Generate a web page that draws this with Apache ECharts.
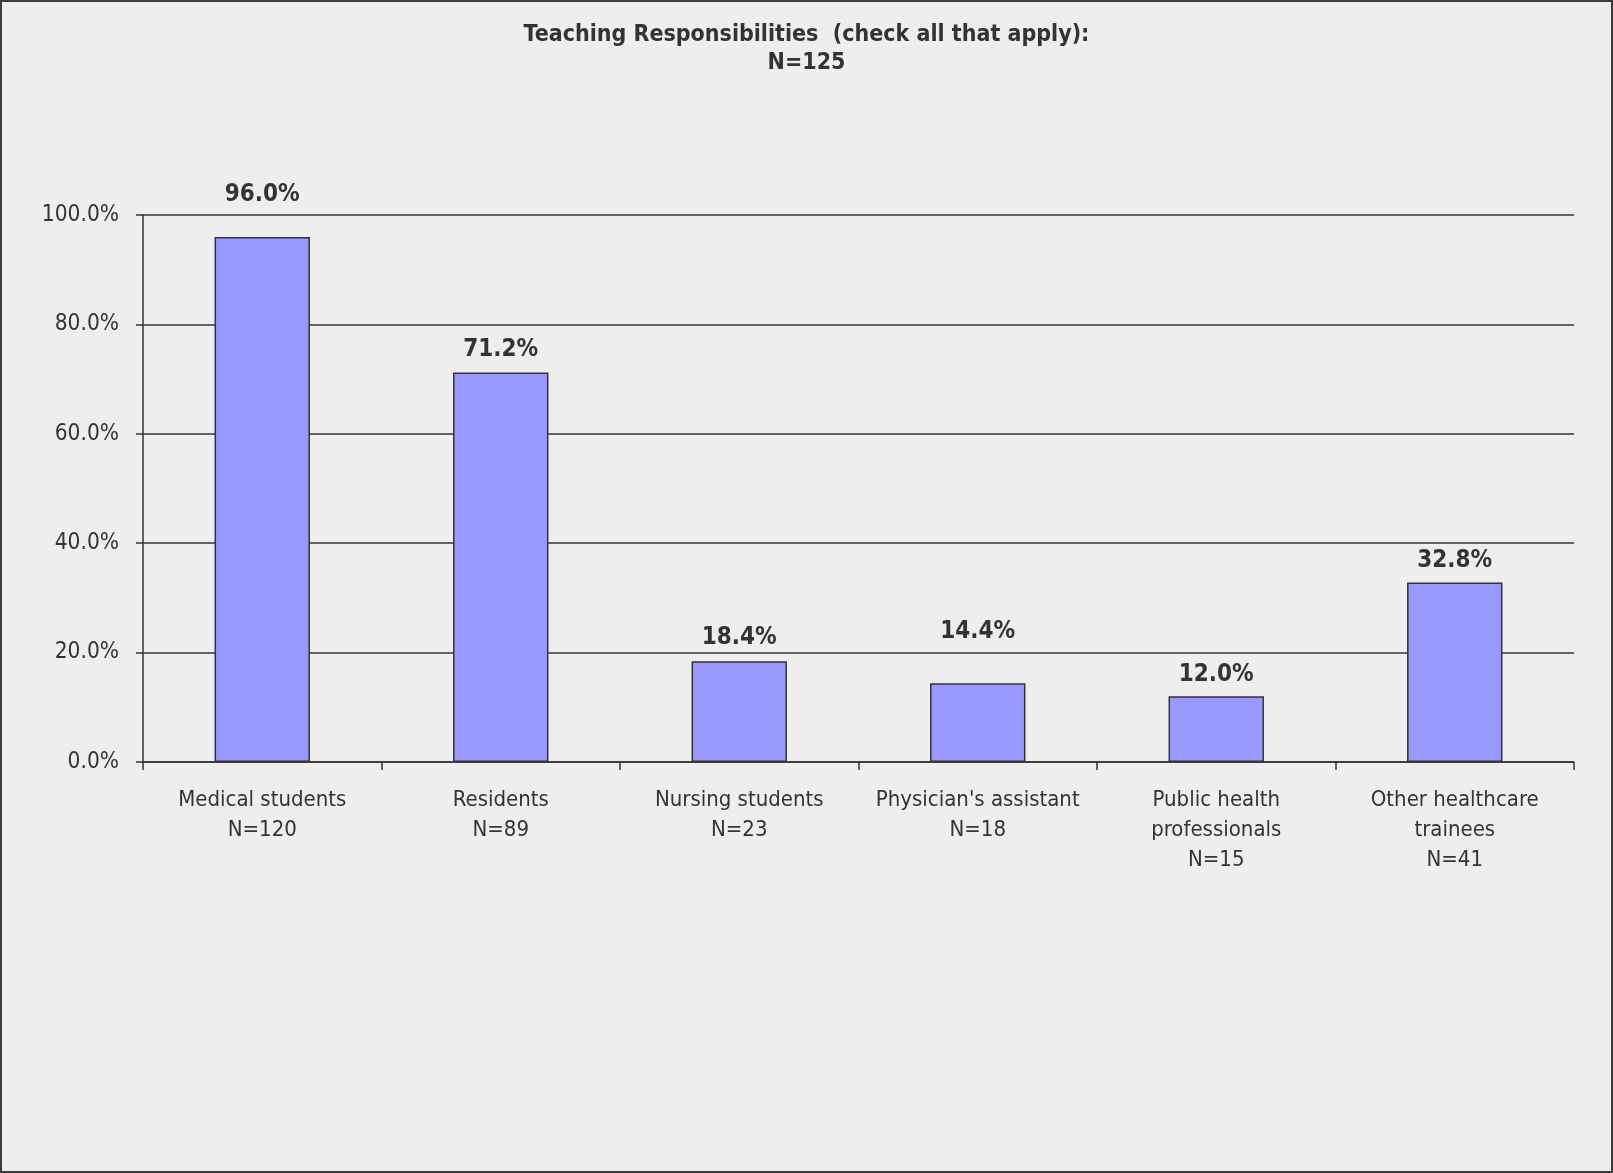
<!DOCTYPE html>
<html>
<head>
<meta charset="utf-8">
<title>Teaching Responsibilities</title>
<script src="https://cdn.jsdelivr.net/npm/echarts@6/dist/echarts.min.js"></script>
<style>
  html, body { margin: 0; padding: 0; background: #eeeeee; }
  #chart { position: absolute; left: 0; top: 0; width: 1613px; height: 1173px; }
  #frame { position: absolute; left: 0; top: 0; width: 1613px; height: 1173px;
           box-sizing: border-box; border: 2px solid #3c3c3c; pointer-events: none; }
</style>
</head>
<body>
<div id="chart"></div>
<div id="frame"></div>
<script>
// Survey groups and the share of respondents teaching each one
const categories = [
  'Medical students\nN=120',
  'Residents\nN=89',
  'Nursing students\nN=23',
  "Physician's assistant\nN=18",
  'Public health\nprofessionals\nN=15',
  'Other healthcare\ntrainees\nN=41'
];
const percentages = [96.0, 71.2, 18.4, 14.4, 12.0, 32.8];
const yTicks = { min: 0, max: 100, interval: 20 };

// Gap (px) between each bar top and its value label
const labelLift = [30, 11, 12, 39, 10, 10];

const FONT = '"DejaVu Sans Condensed", "DejaVu Sans", sans-serif';
const INK = '#333333';

const chart = echarts.init(document.getElementById('chart'), null, { renderer: 'canvas' });

chart.setOption({
  backgroundColor: '#eeeeee',
  animation: false,
  title: {
    text: 'Teaching Responsibilities  (check all that apply):\nN=125',
    left: 'center',
    top: 16,
    textStyle: {
      fontFamily: FONT,
      fontSize: 23,
      fontWeight: 'bold',
      color: INK,
      lineHeight: 28
    }
  },
  grid: { left: 143, right: 39, top: 215, bottom: 411, containLabel: false },
  xAxis: {
    type: 'category',
    data: categories,
    boundaryGap: true,
    axisLine: { show: true, lineStyle: { color: INK, width: 1.5 } },
    axisTick: { show: true, inside: false, length: 8, alignWithLabel: false,
                lineStyle: { color: INK, width: 1.5 } },
    axisLabel: {
      interval: 0,
      margin: 23,
      fontFamily: FONT,
      fontSize: 22,
      lineHeight: 30,
      color: INK,
      align: 'center'
    },
    splitLine: { show: false }
  },
  yAxis: {
    type: 'value',
    min: yTicks.min,
    max: yTicks.max,
    interval: yTicks.interval,
    axisLine: { show: true, lineStyle: { color: INK, width: 1.5 } },
    axisTick: { show: true, inside: false, length: 7, lineStyle: { color: INK, width: 1.5 } },
    axisLabel: {
      margin: 24,
      fontFamily: FONT,
      fontSize: 22.5,
      color: INK,
      formatter: v => v.toFixed(1) + '%'
    },
    splitLine: { show: true, lineStyle: { color: INK, width: 1.5 } }
  },
  series: [{
    type: 'bar',
    barCategoryGap: '60%',
    data: percentages.map((v, i) => ({
      value: v,
      label: { distance: labelLift[i] }
    })),
    itemStyle: { color: '#9999ff', borderColor: INK, borderWidth: 1.5 },
    label: {
      show: true,
      position: 'top',
      fontFamily: FONT,
      fontSize: 24,
      fontWeight: 'bold',
      lineHeight: 24,
      color: INK,
      formatter: p => p.value.toFixed(1) + '%'
    }
  }]
});
</script>
</body>
</html>
